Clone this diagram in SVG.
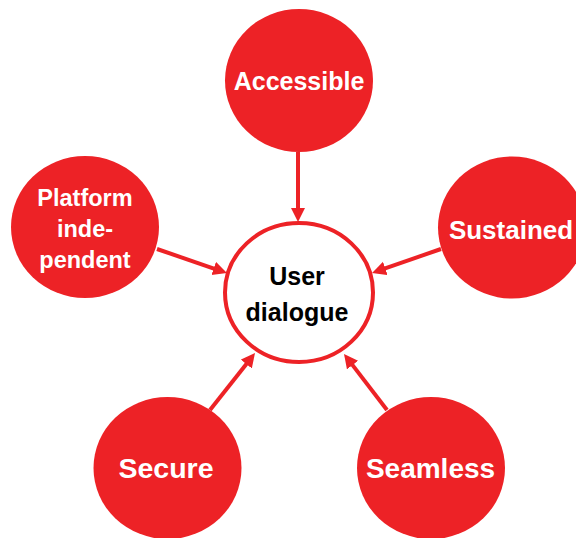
<svg xmlns="http://www.w3.org/2000/svg" width="576" height="538" viewBox="0 0 576 538">
<defs>
<style>
.node{fill:#ED2226;}
.lbl{font-family:"Liberation Sans",Arial,sans-serif;font-weight:bold;fill:#fff;text-anchor:middle;}
.ctr{font-family:"Liberation Sans",Arial,sans-serif;font-weight:bold;fill:#000;text-anchor:middle;font-size:25px;}
.conn{stroke:#ED2226;stroke-width:4;fill:none;}
</style>
<marker id="ah" markerUnits="userSpaceOnUse" markerWidth="16" markerHeight="16" refX="4" refY="7" orient="auto">
<path d="M0,0 L14,7 L0,14 Z" fill="#ED2226"/>
</marker>
</defs>
<rect width="576" height="538" fill="#fff"/>
<g id="connectors">
<line class="conn" x1="298" y1="152" x2="298" y2="212" marker-end="url(#ah)"/>
<line class="conn" x1="157" y1="249" x2="217.5" y2="269.8" marker-end="url(#ah)"/>
<line class="conn" x1="441" y1="249" x2="381.5" y2="269.7" marker-end="url(#ah)"/>
<line class="conn" x1="210" y1="410" x2="248.8" y2="360.9" marker-end="url(#ah)"/>
<line class="conn" x1="387" y1="410" x2="350.1" y2="361.9" marker-end="url(#ah)"/>
</g>
<g id="user-dialogue">
<ellipse cx="299" cy="292.5" rx="74" ry="69.5" fill="#fff" stroke="#ED2226" stroke-width="4"/>
<text class="ctr" x="297" y="285">User</text>
<text class="ctr" x="297" y="321">dialogue</text>
</g>
<g id="accessible">
<ellipse class="node" cx="299" cy="80.5" rx="74" ry="71.5"/>
<text class="lbl" x="299" y="90" font-size="25">Accessible</text>
</g>
<g id="platform-independent">
<ellipse class="node" cx="85" cy="227" rx="74" ry="71"/>
<text class="lbl" x="85" y="206" font-size="23.5">Platform</text>
<text class="lbl" x="85" y="237" font-size="23.5">inde-</text>
<text class="lbl" x="85" y="268" font-size="23.5">pendent</text>
</g>
<g id="sustained">
<ellipse class="node" cx="512" cy="227.5" rx="74" ry="71"/>
<text class="lbl" x="511" y="239" font-size="26">Sustained</text>
</g>
<g id="secure">
<ellipse class="node" cx="167.5" cy="468" rx="74" ry="71"/>
<text class="lbl" x="166" y="478" font-size="28.5">Secure</text>
</g>
<g id="seamless">
<ellipse class="node" cx="431" cy="468" rx="74" ry="71"/>
<text class="lbl" x="430.5" y="478" font-size="28">Seamless</text>
</g>
</svg>
